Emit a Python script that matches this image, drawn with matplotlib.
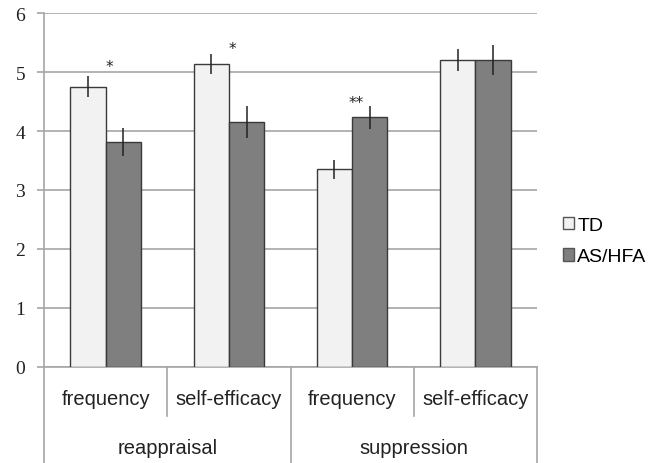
import matplotlib
matplotlib.use("Agg")
import matplotlib.pyplot as plt
from matplotlib.lines import Line2D
import matplotlib.transforms as mtransforms
import numpy as np

subcats = ["frequency", "self-efficacy", "frequency", "self-efficacy"]
groups = ["reappraisal", "suppression"]
series = ["TD", "AS/HFA"]
td_vals = [4.75, 5.14, 3.35, 5.21]
td_err = [0.18, 0.175, 0.16, 0.185]
as_vals = [3.81, 4.16, 4.23, 5.21]
as_err = [0.235, 0.27, 0.20, 0.25]
stars = ["*", "*", "**", ""]
star_y = [5.09, 5.41, 4.49, 0]

fig = plt.figure(figsize=(6.6, 4.64), dpi=100)
ax = fig.add_axes([44/660, 96.5/464, (537-44)/660, (449.7-96.5)/464])

x = np.arange(len(subcats)) + 0.5
w = 0.287
ax.bar(x - w/2, td_vals, w, color="#f2f2f2", edgecolor="#3a3a3a", linewidth=1.0, zorder=3, label=series[0])
ax.bar(x + w/2, as_vals, w, color="#7f7f7f", edgecolor="#3a3a3a", linewidth=1.0, zorder=3, label=series[1])
ax.errorbar(x - w/2, td_vals, yerr=td_err, fmt="none", ecolor="#222222", elinewidth=1.1, capsize=0, zorder=4)
ax.errorbar(x + w/2, as_vals, yerr=as_err, fmt="none", ecolor="#222222", elinewidth=1.1, capsize=0, zorder=4)

for xi, s, sy in zip(x, stars, star_y):
    if s:
        ax.text(xi + 0.03, sy, s, ha="center", va="center", fontsize=11, color="#222222", zorder=5)

ax.set_xlim(0, 4)
ax.set_ylim(0, 6)
ax.set_yticks(range(0, 7))
ax.yaxis.grid(True, color="#a6a6a6", linewidth=1.2, zorder=0)
ax.set_axisbelow(True)
ax.set_xticks([])
for sp in ["top", "right"]:
    ax.spines[sp].set_visible(False)
ax.spines["left"].set_color("#a6a6a6")
ax.spines["bottom"].set_color("#a6a6a6")
ax.spines["left"].set_linewidth(1.2)
ax.spines["bottom"].set_linewidth(1.2)
ax.tick_params(axis="y", direction="out", length=5, width=1.2, color="#a6a6a6", pad=8.5,
               labelsize=14, labelcolor="#222222")
for lab in ax.get_yticklabels():
    lab.set_fontfamily("Liberation Serif")

# multi-level category axis
trans = mtransforms.blended_transform_factory(ax.transData, fig.transFigure)
y0 = 96.5/464
y_minor = (464-417)/464
for b in [1, 3]:
    ax.add_line(Line2D([b, b], [y0, y_minor], transform=trans, color="#a6a6a6", lw=1.2, clip_on=False))
for b in [0, 2, 4]:
    ax.add_line(Line2D([b, b], [y0, 0], transform=trans, color="#a6a6a6", lw=1.2, clip_on=False))
for xi, s in zip(x, subcats):
    ax.text(xi, (464-400)/464, s, transform=trans, ha="center", va="center",
            fontsize=14.5, family="Liberation Sans", color="#222222")
for gi, g in enumerate(groups):
    ax.text(2*gi + 1, (464-449)/464, g, transform=trans, ha="center", va="center",
            fontsize=14.5, family="Liberation Sans", color="#222222")

leg = fig.legend(loc="upper left", bbox_to_anchor=(555/660, (464-210)/464), frameon=False,
                 prop={"family": "Liberation Sans", "size": 14}, handlelength=0.6, handleheight=0.6,
                 handletextpad=0.15, labelspacing=0.75, borderaxespad=0)
for h in leg.legend_handles:
    h.set_edgecolor("#555555")

fig.savefig("out.png", dpi=100)
